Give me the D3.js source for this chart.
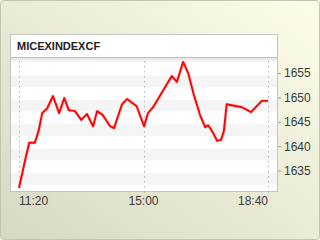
<!DOCTYPE html>
<html>
<head>
<meta charset="utf-8">
<script src="https://cdn.jsdelivr.net/npm/d3@7"></script>
<style>
  html, body { margin: 0; padding: 0; }
  body { width: 320px; height: 240px; overflow: hidden; }
  text { font-family: "Liberation Sans", Arial, sans-serif; }
</style>
</head>
<body>
<div id="chart"></div>
<script>
const title = "MICEXINDEXCF";

const times = ["11:20","11:31","11:38","11:48","11:55","12:01","12:10","12:20","12:31","12:40",
  "12:48","12:59","13:10","13:20","13:31","13:38","13:48","14:01","14:08","14:22",
  "14:31","14:48","15:01","15:08","15:17","15:50","15:59","16:10","16:19","16:29",
  "16:40","16:49","16:54","16:59","17:05","17:10","17:17","17:22","17:27","17:36",
  "17:54","18:10","18:29","18:40"];
const values = [1631.4,1637.2,1640.7,1640.7,1643.3,1646.8,1647.8,1650.3,1646.8,1649.9,
  1647.4,1647.2,1645.4,1646.6,1644.1,1647.2,1646.4,1644.1,1643.7,1648.6,
  1649.7,1648.2,1644.1,1646.8,1648.0,1654.4,1653.2,1657.3,1655.0,1650.5,
  1646.4,1643.9,1644.3,1643.5,1642.3,1641.1,1641.3,1643.1,1648.6,1648.4,
  1648.0,1647.0,1649.3,1649.3];

const yTicks = [1635, 1640, 1645, 1650, 1655];
const xTicks = ["11:20", "15:00", "18:40"];

const W = 320, H = 240;
const panel = { x: 10, y: 34, w: 267, h: 157, head: 24 };

const parse = d3.timeParse("%H:%M");
const data = times.map((t, i) => ({ t: parse(t), v: values[i] }));

const svg = d3.select("#chart").append("svg")
  .attr("width", W).attr("height", H);

const defs = svg.append("defs");
const bg = defs.append("linearGradient").attr("id", "bg")
  .attr("x1", "100%").attr("y1", "0%").attr("x2", "0%").attr("y2", "100%");
bg.append("stop").attr("offset", "0%").attr("stop-color", "#fdfdea");
bg.append("stop").attr("offset", "100%").attr("stop-color", "#d6d9c2");

const sh = defs.append("linearGradient").attr("id", "sh")
  .attr("x1", "0").attr("y1", "0").attr("x2", "0").attr("y2", "1");
sh.append("stop").attr("offset", "0%").attr("stop-color", "#e4e4e4");
sh.append("stop").attr("offset", "100%").attr("stop-color", "#ffffff");

// background
svg.append("rect")
  .attr("x", 0.5).attr("y", 0.5).attr("width", W - 1).attr("height", H - 1)
  .attr("rx", 3)
  .attr("fill", "url(#bg)")
  .attr("stroke", "#c3c6af");

// panel
svg.append("rect")
  .attr("x", panel.x + 0.5).attr("y", panel.y + 0.5)
  .attr("width", panel.w).attr("height", panel.h)
  .attr("fill", "#fff")
  .attr("stroke", "#c4c4c4");

const plotTop = panel.y + panel.head + 1;
const plotBottom = panel.y + panel.h;

const x = d3.scaleTime()
  .domain([parse(xTicks[0]), parse(xTicks[xTicks.length - 1])])
  .range([19, 268]);

const y = d3.scaleLinear()
  .domain([1630.8, 1657.9])
  .range([plotBottom, plotTop]);

// alternating bands
svg.append("g").selectAll("rect")
  .data(yTicks)
  .join("rect")
  .attr("x", panel.x + 1)
  .attr("width", panel.w - 1)
  .attr("y", d => y(d - 0.5))
  .attr("height", d => y(d - 2.9) - y(d - 0.5))
  .attr("fill", "#f5f5f5");

// header separator and shadow
svg.append("rect")
  .attr("x", panel.x + 1).attr("y", plotTop - 1)
  .attr("width", panel.w - 1).attr("height", 5)
  .attr("fill", "url(#sh)");
svg.append("line")
  .attr("x1", panel.x + 1).attr("x2", panel.x + panel.w)
  .attr("y1", plotTop - 1.5).attr("y2", plotTop - 1.5)
  .attr("stroke", "#c0c0c0");

svg.append("text")
  .attr("x", 17).attr("y", 50)
  .attr("font-size", 11).attr("font-weight", "bold")
  .attr("fill", "#222")
  .text(title);

// dotted verticals
svg.append("g").selectAll("line")
  .data(xTicks)
  .join("line")
  .attr("x1", d => Math.round(x(parse(d))) + 0.5)
  .attr("x2", d => Math.round(x(parse(d))) + 0.5)
  .attr("y1", plotTop + 2).attr("y2", plotBottom + 3)
  .attr("stroke", "#b4b4b4")
  .attr("stroke-dasharray", "1.5,3.5");

// line
const line = d3.line().x(d => x(d.t)).y(d => y(d.v));
svg.append("path").datum(data)
  .attr("d", line).attr("fill", "none")
  .attr("stroke", "#ff9a9a").attr("stroke-width", 3.4)
  .attr("stroke-opacity", 0.4).attr("stroke-linejoin", "round");
svg.append("path").datum(data)
  .attr("d", line).attr("fill", "none")
  .attr("stroke", "#ff0000").attr("stroke-width", 1.9)
  .attr("stroke-linejoin", "round");

// right axis
const yAxis = svg.append("g")
  .attr("transform", `translate(${panel.x + panel.w + 1},0)`)
  .call(d3.axisRight(y).tickValues(yTicks).tickSize(3).tickPadding(3).tickFormat(d3.format("d")));
yAxis.select(".domain").remove();
yAxis.selectAll("line").attr("stroke", "#999");
yAxis.selectAll("text")
  .attr("font-family", '"Liberation Sans", Arial, sans-serif')
  .attr("font-size", 12).attr("fill", "#3a3a3a");

// bottom labels
svg.append("g").selectAll("text")
  .data(xTicks)
  .join("text")
  .attr("x", d => x(parse(d)))
  .attr("y", 205)
  .attr("font-size", 12).attr("fill", "#3a3a3a")
  .attr("text-anchor", (d, i) => i === 0 ? "start" : (i === xTicks.length - 1 ? "end" : "middle"))
  .text(d => d);
</script>
</body>
</html>
